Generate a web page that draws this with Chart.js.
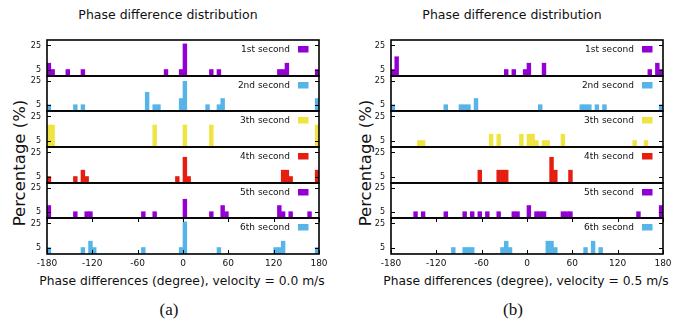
<!DOCTYPE html>
<html>
<head>
<meta charset="utf-8">
<title>Phase difference distribution</title>
<script src="https://cdn.jsdelivr.net/npm/chart.js@4.4.1/dist/chart.umd.min.js"></script>
<style>
  html, body { margin: 0; padding: 0; background: #fff; }
  #page { position: relative; width: 682px; height: 324px; overflow: hidden;
          font-family: "DejaVu Sans", sans-serif; color: #111; }
  #page canvas { position: absolute; }
  .txt { position: absolute; white-space: nowrap; transform: translate(-50%, -50%); }
  .title { font-size: 12.5px; }
  .xlabel { font-size: 12.3px; }
  .ylabel { font-size: 16.5px; transform: translate(-50%, -50%) rotate(-90deg); }
  .tag { font-family: "Liberation Serif", serif; font-size: 17px; }
</style>
</head>
<body>
<div id="page">
  <div class="txt title" style="left:168px; top:14px;">Phase difference distribution</div>
  <div class="txt title" style="left:512px; top:14px;">Phase difference distribution</div>
  <div class="txt ylabel" style="left:19px; top:163px;">Percentage (%)</div>
  <div class="txt ylabel" style="left:365px; top:163px;">Percentage (%)</div>
  <div class="txt xlabel" id="xlabel-a" style="left:182px; top:281px;"></div>
  <div class="txt xlabel" id="xlabel-b" style="left:526px; top:281px;"></div>
  <div class="txt tag" style="left:169px; top:310px;">(a)</div>
  <div class="txt tag" style="left:513px; top:310px;">(b)</div>
</div>

<script>
// histogram bins: [bin centre in degrees, percentage]
// velocity = 0.0 m/s
const still1 = [[-177.5, 10.5], [-172.5, 5.3], [-152.5, 5.3], [-132.5, 5.3], [-22.5, 5.3], [-2.5, 5.3],
                [2.5, 26.3], [37.5, 5.3], [47.5, 5.3], [127.5, 5.3], [132.5, 5.3], [137.5, 10.5], [177.5, 5.3]];
const still2 = [[-177.5, 5.3], [-142.5, 5.3], [-132.5, 5.3], [-47.5, 15.8], [-37.5, 5.3], [-32.5, 5.3],
                [-2.5, 10.5], [2.5, 25], [32.5, 5.3], [47.5, 5.3], [52.5, 10.5], [177.5, 10.5]];
const still3 = [[-177.5, 18], [-172.5, 18], [-37.5, 18], [2.5, 18], [37.5, 18], [177.5, 18]];
const still4 = [[-177.5, 5.3], [-142.5, 5.3], [-132.5, 10.5], [-127.5, 5.3], [-7.5, 5.3], [2.5, 21.1],
                [7.5, 5.3], [132.5, 10.5], [137.5, 10.5], [142.5, 5.3], [177.5, 10.5]];
const still5 = [[-177.5, 10.5], [-142.5, 5.3], [-127.5, 5.3], [-122.5, 5.3], [-52.5, 5.3], [-37.5, 5.3],
                [2.5, 15.8], [37.5, 5.3], [52.5, 10.5], [57.5, 5.3], [127.5, 10.5], [132.5, 5.3],
                [142.5, 5.3], [167.5, 5.3]];
const still6 = [[-177.5, 5.3], [-132.5, 5.3], [-122.5, 10.5], [-117.5, 5.3], [-52.5, 5.3], [-2.5, 5.3],
                [2.5, 26.3], [47.5, 5.3], [122.5, 5.3], [127.5, 5.3], [132.5, 10.5], [177.5, 5.3]];

// velocity = 0.5 m/s
const moving1 = [[-177.5, 5.3], [-172.5, 15.8], [-27.5, 5.3], [-17.5, 5.3], [-2.5, 5.3], [2.5, 10.5],
                 [22.5, 10.5], [162.5, 5.3], [172.5, 10.5], [177.5, 5.3]];
const moving2 = [[-177.5, 5.3], [-107.5, 5.3], [-87.5, 5.3], [-82.5, 5.3], [-77.5, 5.3], [-67.5, 10.5],
                 [17.5, 5.3], [72.5, 5.3], [77.5, 5.3], [82.5, 5.3], [92.5, 5.3], [102.5, 5.3], [177.5, 5.3]];
const moving3 = [[-142.5, 5.3], [-137.5, 5.3], [-47.5, 10.5], [-37.5, 10.5], [-7.5, 10.5], [2.5, 10.5],
                 [7.5, 10.5], [12.5, 5.3], [22.5, 5.3], [27.5, 5.3], [47.5, 10.5], [142.5, 5.3], [157.5, 5.3]];
const moving4 = [[-62.5, 10.5], [-37.5, 10.5], [-32.5, 10.5], [-27.5, 10.5], [32.5, 21.1], [37.5, 10.5],
                 [57.5, 10.5]];
const moving5 = [[-147.5, 5.3], [-137.5, 5.3], [-107.5, 5.3], [-82.5, 5.3], [-72.5, 5.3], [-62.5, 5.3],
                 [-52.5, 5.3], [-37.5, 5.3], [-17.5, 5.3], [-12.5, 5.3], [2.5, 10.5], [12.5, 5.3],
                 [17.5, 5.3], [22.5, 5.3], [47.5, 5.3], [52.5, 5.3], [57.5, 5.3], [147.5, 5.3], [177.5, 10.5]];
const moving6 = [[-97.5, 5.3], [-82.5, 5.3], [-77.5, 5.3], [-72.5, 5.3], [-32.5, 5.3], [-27.5, 10.5],
                 [-22.5, 5.3], [27.5, 10.5], [32.5, 10.5], [37.5, 5.3], [77.5, 5.3], [87.5, 10.5], [97.5, 5.3]];

const secondLabels = ['1st second', '2nd second', '3th second', '4th second', '5th second', '6th second'];
const seriesColors = ['#9400d3', '#56b4e9', '#f0e442', '#e51e10', '#9400d3', '#56b4e9'];
const velocities = ['0.0', '0.5'];
const xTicks = [-180, -120, -60, 0, 60, 120, 180];
const yTicks = [5, 25];
const binWidth = 5;

// layout (pixels)
const PANEL_LEFT = [47, 391];
const PLOT_W = 272;
const ROW_TOPS = [40, 76, 111, 147, 183, 218, 254];
const AXIS_W = 40;
const PAD_R = 14;
const PAD_T = 10;
const XAXIS_H = 22;
const Y_MAX = 29.5;

Chart.defaults.font.family = '"DejaVu Sans", sans-serif';
Chart.defaults.color = '#111';

const binCenters = [];
for (let c = -180 + binWidth / 2; c < 180; c += binWidth) binCenters.push(c);

function toBins(pairs) {
    const lookup = new Map(pairs);
    return binCenters.map(c => ({ x: c, y: lookup.get(c) || 0 }));
}

// frames, inward ticks, y tick labels and the little legend of each strip
const stripPlugin = {
    id: 'strips',
    afterDatasetsDraw(chart) {
        const { ctx, chartArea: a, scales } = chart;
        const x = scales.x;
        const rows = secondLabels.length;
        ctx.save();
        for (let r = 0; r < rows; r++) {
            const y = scales['y' + r];
            const top = y.top, bottom = y.bottom;

            ctx.strokeStyle = '#000';
            ctx.lineWidth = 1.6;
            ctx.strokeRect(a.left, top, a.right - a.left, bottom - top);

            ctx.lineWidth = 1;
            ctx.beginPath();
            y.ticks.forEach(t => {
                const py = Math.round(y.getPixelForValue(t.value)) + 0.5;
                ctx.moveTo(a.left, py); ctx.lineTo(a.left + 4, py);
                ctx.moveTo(a.right, py); ctx.lineTo(a.right - 4, py);
            });
            if (r === rows - 1) {
                x.ticks.forEach(t => {
                    const px = Math.round(x.getPixelForValue(t.value)) + 0.5;
                    ctx.moveTo(px, top); ctx.lineTo(px, top + 4);
                    ctx.moveTo(px, bottom); ctx.lineTo(px, bottom - 4);
                });
            }
            ctx.stroke();

            ctx.fillStyle = '#111';
            ctx.textBaseline = 'middle';
            ctx.textAlign = 'right';
            ctx.font = '8px "DejaVu Sans"';
            y.ticks.forEach(t => ctx.fillText(String(t.value), a.left - 6, y.getPixelForValue(t.value)));

            ctx.font = '9px "DejaVu Sans"';
            ctx.fillText(secondLabels[r], a.right - 29, top + 9.5);
            ctx.fillStyle = seriesColors[r];
            ctx.fillRect(a.right - 21, top + 6, 10.5, 6.5);
        }
        ctx.restore();
    }
};

function makePanel(panel, series) {
    const plotH = ROW_TOPS[ROW_TOPS.length - 1] - ROW_TOPS[0];
    const canvas = document.createElement('canvas');
    canvas.width = AXIS_W + PLOT_W + PAD_R;
    canvas.height = PAD_T + plotH + XAXIS_H;
    document.getElementById('page').appendChild(canvas);

    const scales = {
        x: {
            type: 'linear',
            position: 'bottom',
            min: -180,
            max: 180,
            offset: false,
            grid: { display: false, drawTicks: false },
            border: { display: false },
            ticks: { font: { size: 9 }, padding: 4, maxRotation: 0, autoSkip: false },
            afterBuildTicks: s => { s.ticks = xTicks.map(v => ({ value: v })); },
            afterFit: s => { s.height = XAXIS_H; }
        }
    };
    series.forEach((s, r) => {
        scales['y' + r] = {
            type: 'linear',
            position: 'left',
            stack: 'strips',
            stackWeight: ROW_TOPS[r + 1] - ROW_TOPS[r],
            weight: series.length - r,
            min: 0,
            max: Y_MAX,
            offset: false,
            grid: { display: false, drawTicks: false },
            border: { display: false },
            ticks: { display: false },
            afterBuildTicks: sc => { sc.ticks = yTicks.map(v => ({ value: v })); },
            afterFit: sc => { sc.width = AXIS_W; }
        };
    });

    const chart = new Chart(canvas, {
        type: 'bar',
        data: {
            datasets: series.map((s, r) => ({
                data: toBins(s),
                xAxisID: 'x',
                yAxisID: 'y' + r,
                backgroundColor: seriesColors[r],
                borderWidth: 0,
                grouped: false,
                barPercentage: 1,
                categoryPercentage: 1
            }))
        },
        options: {
            responsive: false,
            maintainAspectRatio: false,
            animation: false,
            devicePixelRatio: 1,
            layout: {
                autoPadding: false,
                padding: { left: 0, right: PAD_R, top: PAD_T, bottom: 0 }
            },
            plugins: {
                legend: { display: false },
                tooltip: { enabled: false }
            },
            scales
        },
        plugins: [stripPlugin]
    });

    // make sure the first series sits in the top strip
    const n = series.length;
    if (chart.scales.y0.top > chart.scales['y' + (n - 1)].top) {
        series.forEach((s, r) => { chart.options.scales['y' + r].weight = r + 1; });
        chart.update();
    }

    // the layout may keep some extra room; grow the canvas until the plot has its size
    for (let i = 0; i < 3; i++) {
        const a = chart.chartArea;
        const missingH = plotH - (a.bottom - a.top);
        const missingW = PLOT_W - (a.right - a.left);
        if (Math.abs(missingH) < 0.5 && Math.abs(missingW) < 0.5) break;
        chart.resize(canvas.width + missingW, canvas.height + missingH);
    }
    const a = chart.chartArea;
    canvas.style.left = (PANEL_LEFT[panel] - a.left) + 'px';
    canvas.style.top = (ROW_TOPS[0] - a.top) + 'px';
}

makePanel(0, [still1, still2, still3, still4, still5, still6]);
makePanel(1, [moving1, moving2, moving3, moving4, moving5, moving6]);

document.getElementById('xlabel-a').textContent =
    'Phase differences (degree), velocity = ' + velocities[0] + ' m/s';
document.getElementById('xlabel-b').textContent =
    'Phase differences (degree), velocity = ' + velocities[1] + ' m/s';
</script>
</body>
</html>
